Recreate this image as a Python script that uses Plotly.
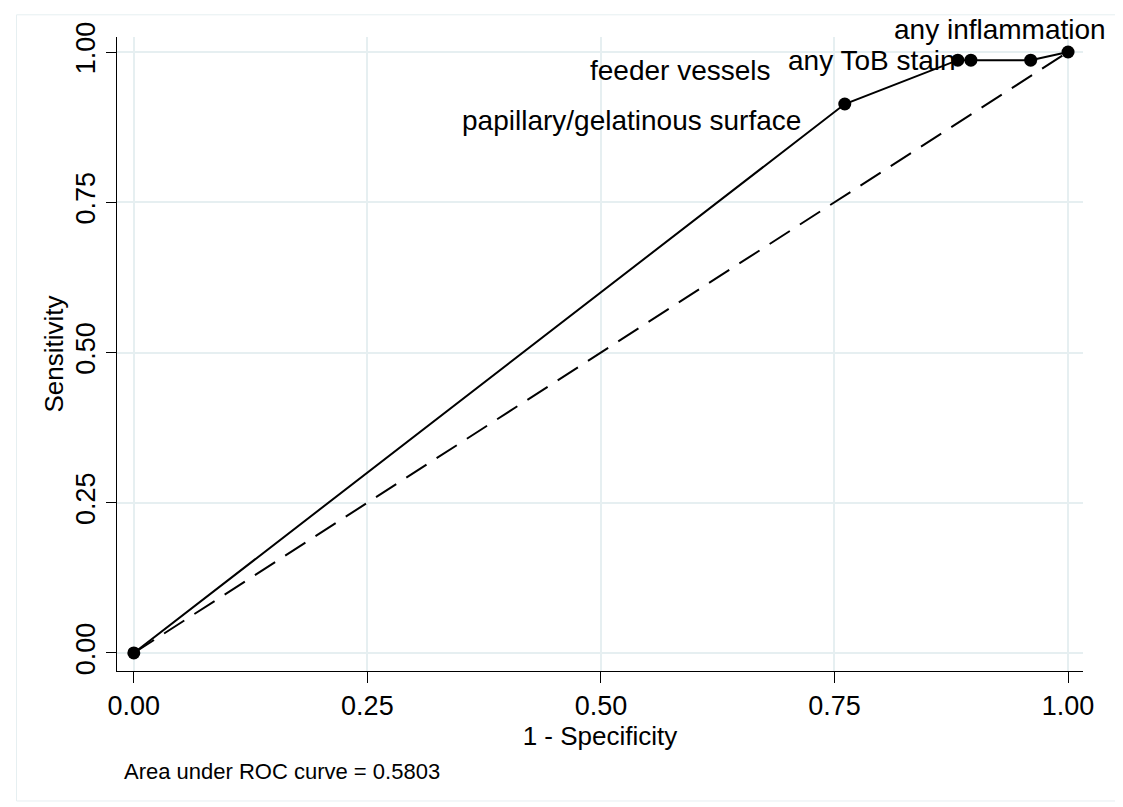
import plotly.graph_objects as go

# ROC points (1 - specificity, sensitivity)
one_minus_spec = [0.0, 0.761, 0.882, 0.896, 0.960, 1.0]
sensitivity = [0.0, 0.9135, 0.9865, 0.9865, 0.9865, 1.0]

# marker labels: (point index, text, xanchor, xshift, yshift)
point_labels = [
    (1, "papillary/gelatinous surface", "right", -42, -16),
    (2, "feeder vessels", "right", -185, -10),
    (3, "any ToB stain", "right", -13, 0),
    (5, "any inflammation", "right", 40, 23),
]

ref_x = [0.0, 1.0]
ref_y = [0.0, 1.0]

tick_vals = [0.0, 0.25, 0.5, 0.75, 1.0]
tick_text = ["0.00", "0.25", "0.50", "0.75", "1.00"]
auc = 0.5803

FONT = "Liberation Sans, Arial, Helvetica, sans-serif"
GRID = "#e6eff1"

fig = go.Figure()
fig.add_trace(
    go.Scatter(
        x=ref_x,
        y=ref_y,
        mode="lines",
        line={"color": "black", "width": 2, "dash": "24px,12px"},
        hoverinfo="skip",
        showlegend=False,
    )
)
fig.add_trace(
    go.Scatter(
        x=one_minus_spec,
        y=sensitivity,
        mode="lines+markers",
        line={"color": "black", "width": 2},
        marker={"color": "black", "size": 13},
        showlegend=False,
    )
)

for idx, text, anchor, dx, dy in point_labels:
    fig.add_annotation(
        x=one_minus_spec[idx],
        y=sensitivity[idx],
        text=text,
        showarrow=False,
        xanchor=anchor,
        yanchor="middle",
        xshift=dx,
        yshift=dy,
        font={"family": FONT, "size": 28, "color": "black"},
    )

fig.add_annotation(
    x=0.0,
    y=-0.158,
    xref="x",
    yref="paper",
    xshift=-12,
    text=f"Area under ROC curve = {auc:.4f}",
    showarrow=False,
    xanchor="left",
    yanchor="middle",
    font={"family": FONT, "size": 22, "color": "black"},
)

# light outer frame of the graph region
fig.add_shape(
    type="rect",
    xref="paper",
    yref="paper",
    x0=-0.104,
    x1=1.035,
    y0=-0.205,
    y1=1.035,
    line={"color": GRID, "width": 1},
)

fig.update_layout(
    width=1115,
    height=799,
    margin={"l": 109, "r": 40, "t": 29, "b": 136},
    paper_bgcolor="white",
    plot_bgcolor="white",
    font={"family": FONT, "color": "black"},
)
fig.update_xaxes(
    range=[-0.018, 1.016],
    tickvals=tick_vals,
    ticktext=tick_text,
    ticks="outside",
    ticklen=11,
    tickwidth=1,
    tickcolor="black",
    tickfont={"size": 27},
    showline=True,
    linecolor="black",
    linewidth=1,
    showgrid=True,
    gridcolor=GRID,
    gridwidth=2,
    zeroline=False,
    title={"text": "1 - Specificity", "font": {"size": 26}, "standoff": 0},
)
fig.update_yaxes(
    range=[-0.030, 1.025],
    tickvals=tick_vals,
    ticktext=tick_text,
    tickangle=-90,
    ticks="outside",
    ticklen=10,
    tickwidth=1,
    tickcolor="black",
    tickfont={"size": 27},
    showline=True,
    linecolor="black",
    linewidth=1,
    showgrid=True,
    gridcolor=GRID,
    gridwidth=2,
    zeroline=False,
    title={"text": "Sensitivity", "font": {"size": 26}, "standoff": 0},
)

fig.write_html("out.html")
